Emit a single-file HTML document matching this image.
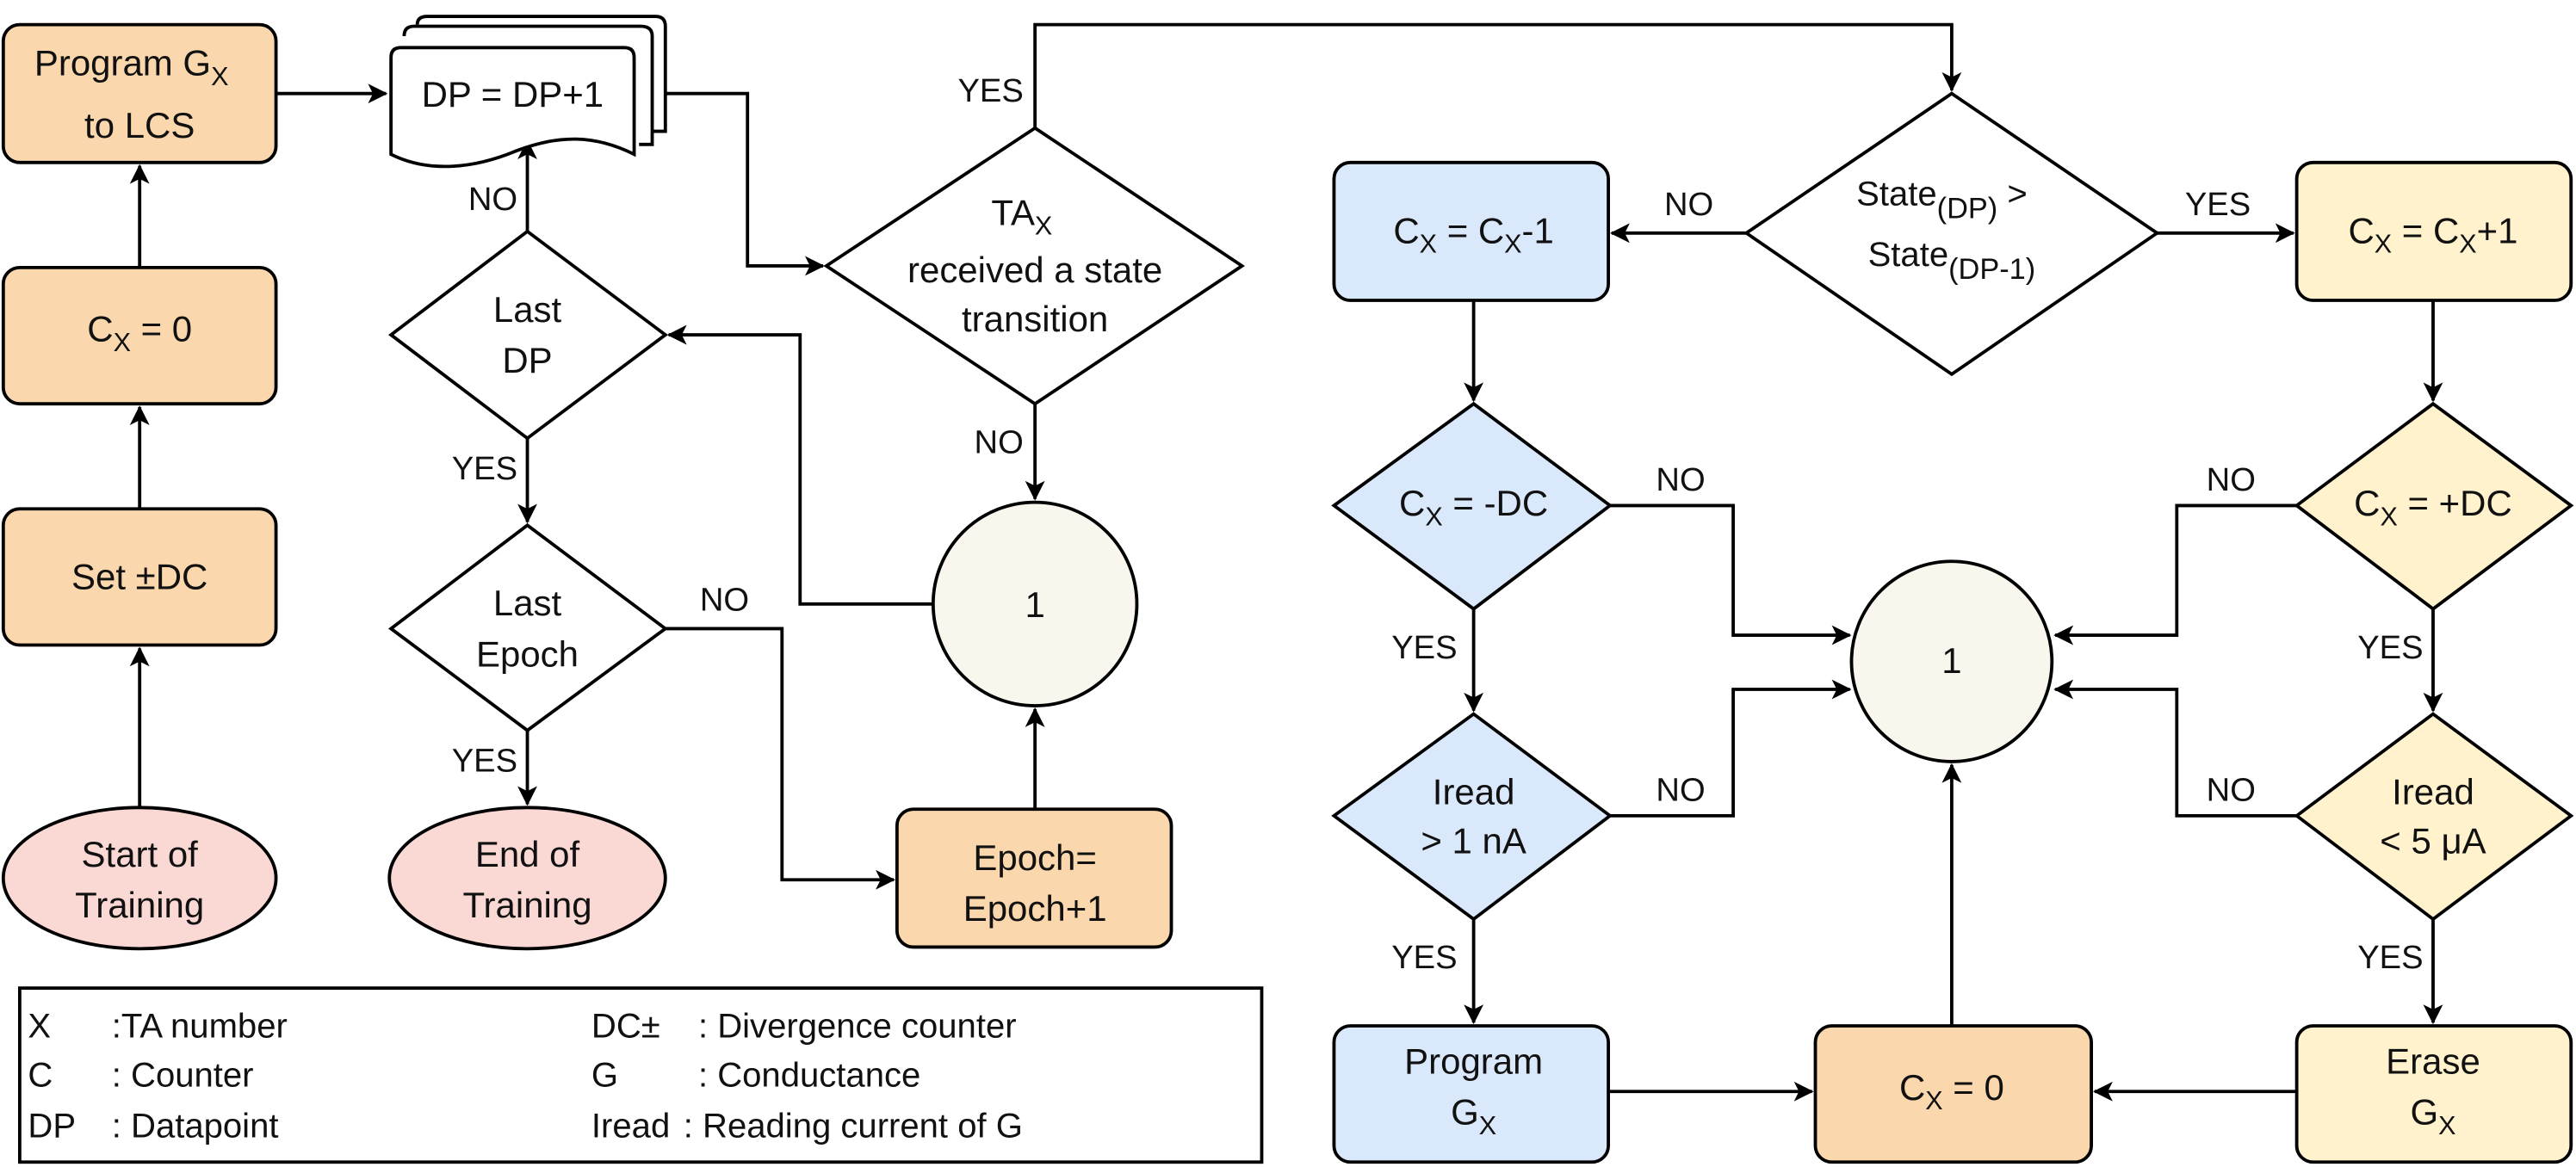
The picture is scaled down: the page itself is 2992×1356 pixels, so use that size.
<!DOCTYPE html>
<html><head><meta charset="utf-8"><style>
html,body{margin:0;padding:0;background:#fff;}
svg{display:block;}
text{font-family:"Liberation Sans",Arial,sans-serif;fill:#111;}
</style></head><body>
<svg width="2992" height="1356" viewBox="0 0 1568 711" preserveAspectRatio="none" xmlns="http://www.w3.org/2000/svg">
<defs>
<marker id="b" viewBox="0 0 12 12" refX="11" refY="6" markerWidth="12" markerHeight="12" orient="auto" markerUnits="userSpaceOnUse">
<path d="M0,0 L12,6 L0,12 L3,6 Z" fill="#000"/>
</marker>
</defs>
<g stroke="#000" stroke-width="2" fill="none" marker-end="url(#b)">
<path d="M85,492 V395"/>
<path d="M85,310 V248"/>
<path d="M85,163 V101"/>
<path d="M168,57 H235"/>
<path d="M405,57 H455 V162 H501"/>
<path d="M630,78 V15 H1188 V55"/>
<path d="M630,246 V304"/>
<path d="M568,368 H487 V204 H407"/>
<path d="M321,141 V86"/>
<path d="M321,267 V318"/>
<path d="M405,383 H476 V536 H544"/>
<path d="M321,445 V490"/>
<path d="M630,493 V432"/>
<path d="M1063,142 H981"/>
<path d="M1313,142 H1396"/>
<path d="M897,183 V244"/>
<path d="M1481,183 V244"/>
<path d="M980,308 H1055 V387 H1126"/>
<path d="M980,497 H1055 V420 H1126"/>
<path d="M897,371 V433"/>
<path d="M897,560 V623"/>
<path d="M1398,308 H1325 V387 H1251"/>
<path d="M1398,497 H1325 V420 H1251"/>
<path d="M1481,371 V433"/>
<path d="M1481,560 V623"/>
<path d="M979,665 H1103"/>
<path d="M1398,665 H1275"/>
<path d="M1188,625 V466"/>
</g>
<g stroke="#000" stroke-width="2">
<rect x="2" y="15" width="166" height="84" rx="10" fill="#fad7ac"/>
<rect x="2" y="163" width="166" height="83" rx="10" fill="#fad7ac"/>
<rect x="2" y="310" width="166" height="83" rx="10" fill="#fad7ac"/>
<ellipse cx="85" cy="535" rx="83" ry="43" fill="#fad9d5"/>
<ellipse cx="321" cy="535" rx="84" ry="43" fill="#fad9d5"/>
<path d="M254,15 Q254,10 260,10 H399 Q405,10 405,16 V80 H397" fill="#fff"/>
<path d="M246,22 Q246,16 252,16 H390 Q397,16 397,22 V88 H389" fill="#fff"/>
<path d="M238,35 Q238,29 244,29 H380 Q386,29 386,35 V94 C362,82 340,82 314,92 C290,102 262,106 238,94 Z" fill="#fff"/>
<polygon points="321,141 405,204 321,267 238,204" fill="#fff"/>
<polygon points="321,320 405,383 321,445 238,383" fill="#fff"/>
<polygon points="630,78 756,162 630,246 503,162" fill="#fff"/>
<circle cx="630" cy="368" r="62" fill="#f9f7ed"/>
<rect x="546" y="493" width="167" height="84" rx="10" fill="#fad7ac"/>
<rect x="12" y="602" width="756" height="106" fill="#fff"/>
<polygon points="1188,57 1313,142 1188,228 1063,142" fill="#fff"/>
<rect x="812" y="99" width="167" height="84" rx="10" fill="#dae8fc"/>
<rect x="1398" y="99" width="167" height="84" rx="10" fill="#fff2cc"/>
<polygon points="897,246 980,308 897,371 812,308" fill="#dae8fc"/>
<polygon points="897,435 980,497 897,560 812,497" fill="#dae8fc"/>
<polygon points="1481,246 1565,308 1481,371 1398,308" fill="#fff2cc"/>
<polygon points="1481,435 1565,497 1481,560 1398,497" fill="#fff2cc"/>
<circle cx="1188" cy="403" r="61" fill="#f9f7ed"/>
<rect x="812" y="625" width="167" height="83" rx="10" fill="#dae8fc"/>
<rect x="1105" y="625" width="168" height="83" rx="10" fill="#fad7ac"/>
<rect x="1398" y="625" width="167" height="83" rx="10" fill="#fff2cc"/>
</g>
<g font-size="22" text-anchor="middle">
<text x="80" y="46">Program G<tspan font-size="16" dy="6">X</tspan></text>
<text x="85" y="84">to LCS</text>
<text x="85" y="208">C<tspan font-size="16" dy="6">X</tspan><tspan dy="-6"> = 0</tspan></text>
<text x="85" y="359">Set ±DC</text>
<text x="85" y="528">Start of</text>
<text x="85" y="559">Training</text>
<text x="321" y="528">End of</text>
<text x="321" y="559">Training</text>
<text x="312" y="65">DP = DP+1</text>
<text x="321" y="196">Last</text>
<text x="321" y="227">DP</text>
<text x="321" y="375">Last</text>
<text x="321" y="406">Epoch</text>
<text x="622" y="137">TA<tspan font-size="16" dy="6">X</tspan></text>
<text x="630" y="172">received a state</text>
<text x="630" y="202">transition</text>
<text x="630" y="376">1</text>
<text x="630" y="530">Epoch=</text>
<text x="630" y="561">Epoch+1</text>
<text x="1188" y="410">1</text>
<text x="897" y="148">C<tspan font-size="16" dy="6">X</tspan><tspan dy="-6"> = C</tspan><tspan font-size="16" dy="6">X</tspan><tspan dy="-6">-1</tspan></text>
<text x="1481" y="148">C<tspan font-size="16" dy="6">X</tspan><tspan dy="-6"> = C</tspan><tspan font-size="16" dy="6">X</tspan><tspan dy="-6">+1</tspan></text>
<text x="897" y="314">C<tspan font-size="16" dy="6">X</tspan><tspan dy="-6"> = -DC</tspan></text>
<text x="1481" y="314">C<tspan font-size="16" dy="6">X</tspan><tspan dy="-6"> = +DC</tspan></text>
<text x="897" y="490">Iread</text>
<text x="897" y="520">&gt; 1 nA</text>
<text x="1481" y="490">Iread</text>
<text x="1481" y="520">&lt; 5 μA</text>
<text x="897" y="654">Program</text>
<text x="897" y="685">G<tspan font-size="16" dy="6">X</tspan></text>
<text x="1188" y="670">C<tspan font-size="16" dy="6">X</tspan><tspan dy="-6"> = 0</tspan></text>
<text x="1481" y="654">Erase</text>
<text x="1481" y="685">G<tspan font-size="16" dy="6">X</tspan></text>
<text x="1182" y="125" font-size="21">State<tspan font-size="18" dy="8">(DP)</tspan><tspan dy="-8"> &gt;</tspan></text>
<text x="1188" y="162" font-size="21">State<tspan font-size="18" dy="8">(DP-1)</tspan></text>
</g>
<g font-size="20" text-anchor="middle">
<text x="603" y="62">YES</text>
<text x="608" y="276">NO</text>
<text x="300" y="128">NO</text>
<text x="295" y="292">YES</text>
<text x="441" y="372">NO</text>
<text x="295" y="470">YES</text>
<text x="1028" y="131">NO</text>
<text x="1350" y="131">YES</text>
<text x="1023" y="299">NO</text>
<text x="867" y="401">YES</text>
<text x="1023" y="488">NO</text>
<text x="867" y="590">YES</text>
<text x="1358" y="299">NO</text>
<text x="1455" y="401">YES</text>
<text x="1358" y="488">NO</text>
<text x="1455" y="590">YES</text>
</g>
<g font-size="21">
<text x="17" y="632">X</text><text x="68" y="632">:TA  number</text>
<text x="17" y="662">C</text><text x="68" y="662">: Counter</text>
<text x="17" y="693">DP</text><text x="68" y="693">: Datapoint</text>
<text x="360" y="632">DC±</text><text x="425" y="632">: Divergence counter</text>
<text x="360" y="662">G</text><text x="425" y="662">: Conductance</text>
<text x="360" y="693">Iread</text><text x="416" y="693">: Reading current of G</text>
</g>
</svg>
</body></html>
